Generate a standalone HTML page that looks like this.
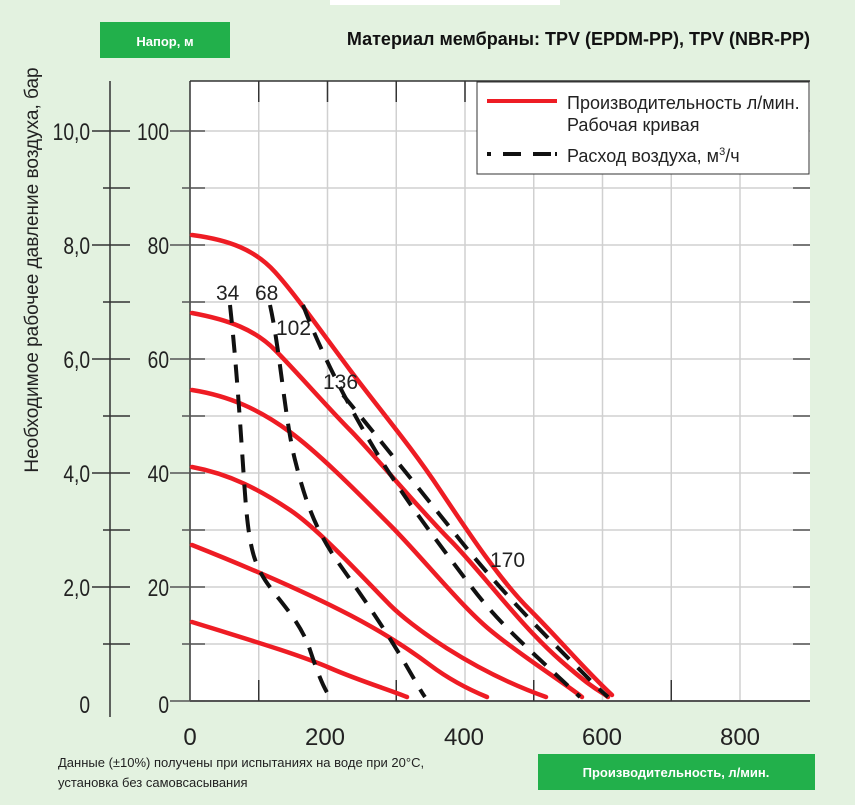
<!DOCTYPE html>
<html><head><meta charset="utf-8"><style>
body{margin:0;width:855px;height:800px;background:#e3f2e0;overflow:hidden;font-family:"Liberation Sans",sans-serif}
</style></head><body>
<svg width="855" height="800" xmlns="http://www.w3.org/2000/svg" font-family="Liberation Sans, sans-serif">
<rect x="330" y="0" width="230" height="5" fill="#fff"/>
<rect x="100" y="22" width="130" height="36" fill="#22b04b"/>
<text x="165" y="46" fill="#fff" font-size="13" font-weight="bold" text-anchor="middle">Напор, м</text>
<text x="810" y="45" font-size="18" font-weight="bold" text-anchor="end" fill="#111">Материал мембраны: TPV (EPDM-PP), TPV (NBR-PP)</text>
<rect x="190" y="81" width="620" height="620" fill="#fff"/>
<g stroke="#d0d0d0" stroke-width="1.5">
<line x1="258.75" y1="81" x2="258.75" y2="701"/><line x1="327.5" y1="81" x2="327.5" y2="701"/><line x1="396.25" y1="81" x2="396.25" y2="701"/><line x1="465" y1="81" x2="465" y2="701"/><line x1="533.75" y1="81" x2="533.75" y2="701"/><line x1="602.5" y1="81" x2="602.5" y2="701"/><line x1="671.25" y1="81" x2="671.25" y2="701"/><line x1="740" y1="81" x2="740" y2="701"/>
<line x1="190" y1="131" x2="810" y2="131"/><line x1="190" y1="188" x2="810" y2="188"/><line x1="190" y1="245" x2="810" y2="245"/><line x1="190" y1="302" x2="810" y2="302"/><line x1="190" y1="359" x2="810" y2="359"/><line x1="190" y1="416" x2="810" y2="416"/><line x1="190" y1="473" x2="810" y2="473"/><line x1="190" y1="530" x2="810" y2="530"/><line x1="190" y1="587" x2="810" y2="587"/><line x1="190" y1="644" x2="810" y2="644"/>
</g>
<g stroke="#333" stroke-width="1.5">
<line x1="190" y1="81" x2="810" y2="81"/><line x1="190" y1="81" x2="190" y2="701"/>
<line x1="190" y1="701" x2="810" y2="701" stroke="#555" stroke-width="2"/>
<line x1="258.75" y1="81" x2="258.75" y2="102"/><line x1="327.5" y1="81" x2="327.5" y2="102"/><line x1="396.25" y1="81" x2="396.25" y2="102"/><line x1="465" y1="81" x2="465" y2="102"/>
<line x1="258.75" y1="680" x2="258.75" y2="701"/><line x1="396.25" y1="680" x2="396.25" y2="701"/><line x1="533.75" y1="680" x2="533.75" y2="701"/><line x1="671.25" y1="680" x2="671.25" y2="701"/>
<line x1="110" y1="81" x2="110" y2="717"/>
<line x1="92" y1="131" x2="130" y2="131"/><line x1="103" y1="188" x2="130" y2="188"/><line x1="92" y1="245" x2="130" y2="245"/><line x1="103" y1="302" x2="130" y2="302"/><line x1="92" y1="359" x2="130" y2="359"/><line x1="103" y1="416" x2="130" y2="416"/><line x1="92" y1="473" x2="130" y2="473"/><line x1="103" y1="530" x2="130" y2="530"/><line x1="92" y1="587" x2="130" y2="587"/><line x1="103" y1="644" x2="130" y2="644"/>
<g stroke="#555"><line x1="170" y1="131" x2="205" y2="131"/><line x1="182" y1="188" x2="205" y2="188"/><line x1="170" y1="245" x2="205" y2="245"/><line x1="182" y1="302" x2="205" y2="302"/><line x1="170" y1="359" x2="205" y2="359"/><line x1="182" y1="416" x2="205" y2="416"/><line x1="170" y1="473" x2="205" y2="473"/><line x1="182" y1="530" x2="205" y2="530"/><line x1="170" y1="587" x2="205" y2="587"/><line x1="182" y1="644" x2="205" y2="644"/><line x1="170" y1="701" x2="205" y2="701"/></g>
<g stroke="#555"><line x1="793" y1="188" x2="810" y2="188"/><line x1="793" y1="245" x2="810" y2="245"/><line x1="793" y1="302" x2="810" y2="302"/><line x1="793" y1="359" x2="810" y2="359"/><line x1="793" y1="416" x2="810" y2="416"/><line x1="793" y1="473" x2="810" y2="473"/><line x1="793" y1="530" x2="810" y2="530"/><line x1="793" y1="587" x2="810" y2="587"/><line x1="793" y1="644" x2="810" y2="644"/></g>
</g>
<g font-size="24" fill="#222" text-anchor="end">
<g transform="translate(90,0) scale(0.8,1)"><text x="0" y="140">10,0</text><text x="0" y="254">8,0</text><text x="0" y="368">6,0</text><text x="0" y="482">4,0</text><text x="0" y="596">2,0</text><text x="0" y="713">0</text></g>
<g transform="translate(169,0) scale(0.8,1)"><text x="0" y="140">100</text><text x="0" y="254">80</text><text x="0" y="368">60</text><text x="0" y="482">40</text><text x="0" y="596">20</text><text x="0" y="713">0</text></g>
</g>
<g font-size="24" fill="#222" text-anchor="middle">
<g transform="translate(0,0)"><text x="190" y="745">0</text><text x="325" y="745">200</text><text x="464" y="745">400</text><text x="602" y="745">600</text><text x="740" y="745">800</text></g>
</g>
<text transform="translate(38,270) rotate(-90)" font-size="19" fill="#222" text-anchor="middle">Необходимое рабочее давление воздуха, бар</text>
<g fill="none" stroke="#ee1c24" stroke-width="4.5" stroke-linecap="round">
<path d="M192,235 C230,240 255,250 275,272 S320,330 350,370 S410,445 440,490 S500,580 530,610 S585,670 612,695"/>
<path d="M192,313 C230,320 255,330 275,350 S330,410 350,430 S420,510 450,540 S520,625 560,660 S600,690 608,697"/>
<path d="M192,390 C230,396 260,410 290,432 S360,495 390,525 S460,605 490,630 S560,680 582,697"/>
<path d="M192,467 C230,474 260,490 290,510 S370,585 390,605 S470,670 546,697"/>
<path d="M192,545 C250,568 300,590 340,610 S410,650 430,665 S470,690 487,697"/>
<path d="M192,622 C250,640 300,655 330,668 S390,690 407,697"/>
</g>
<g fill="none" stroke="#111" stroke-width="4" stroke-dasharray="18,12">
<path d="M230,305 C236,360 240,420 244,480 S252,560 265,580 S300,620 310,650 S325,690 330,697"/>
<path d="M270,305 C280,350 285,420 295,460 S315,530 340,565 S385,630 400,655 S420,690 425,697"/>
<path d="M303,305 C320,350 345,400 375,450 S440,545 470,585 S530,650 580,697"/>
<path d="M343,395 C380,440 420,490 460,540 S540,630 570,660 S600,690 608,697"/>
</g>
<g font-size="21" fill="#222">
<text x="216" y="300">34</text><text x="255" y="300">68</text><text x="276" y="335">102</text><text x="323" y="389">136</text><text x="490" y="567">170</text>
</g>
<rect x="477" y="82" width="332" height="92" fill="#fff" stroke="#333" stroke-width="1"/>
<line x1="487" y1="101" x2="557" y2="101" stroke="#ee1c24" stroke-width="4"/>
<line x1="487" y1="154" x2="557" y2="154" stroke="#111" stroke-width="4" stroke-dasharray="4,12,18,12,18"/>
<g font-size="18" fill="#222">
<text x="567" y="109">Производительность л/мин.</text>
<text x="567" y="131">Рабочая кривая</text>
<text x="567" y="162">Расход воздуха, м<tspan font-size="11" dy="-7">3</tspan><tspan dy="7">/ч</tspan></text>
</g>
<text x="58" y="767" font-size="13" fill="#222">Данные (±10%) получены при испытаниях на воде при 20°C,</text>
<text x="58" y="787" font-size="13" fill="#222">установка без самовсасывания</text>
<rect x="538" y="754" width="277" height="36" fill="#22b04b"/>
<text x="676" y="777" font-size="13" font-weight="bold" fill="#fff" text-anchor="middle">Производительность, л/мин.</text>
</svg>
</body></html>
